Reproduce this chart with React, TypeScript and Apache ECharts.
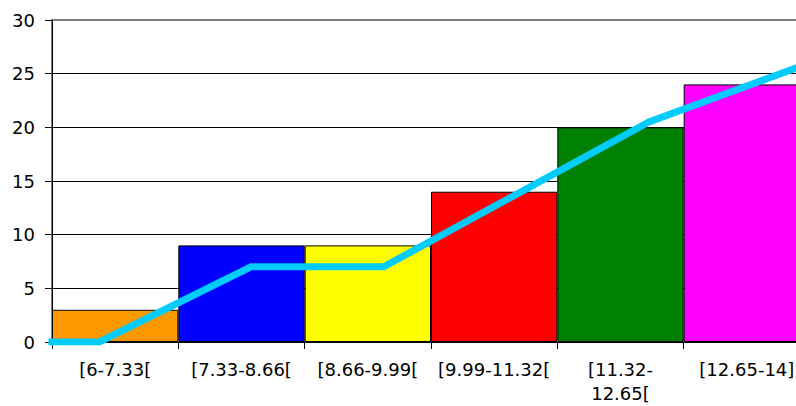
import React, { useEffect, useRef } from "react";
import * as echarts from "echarts";

// Class intervals and their frequencies
const categories = [
  "[6-7.33[",
  "[7.33-8.66[",
  "[8.66-9.99[",
  "[9.99-11.32[",
  "[11.32-12.65[",
  "[12.65-14]",
];
const counts = [3, 9, 9, 14, 20, 24];
const barColors = ["#FF9900", "#0000FF", "#FFFF00", "#FF0000", "#008000", "#FF00FF"];

// Polygon drawn over the histogram (x in class units, y in frequency)
const polygonX = [6, 6.5, 8.1, 9.5, 12.3, 14];
const polygonY = [0, 0, 7, 7, 20.5, 26];

const yMin = 0;
const yMax = 30;
const yStep = 5;

const FONT = "DejaVu Sans";

export default function App() {
  const ref = useRef<HTMLDivElement>(null);

  useEffect(() => {
    if (!ref.current) return;
    const chart = echarts.init(ref.current, undefined, { renderer: "svg" });

    const splitColors = ["#000", "#000", "#000", "#000", "#000", "#000", "#808080"];

    chart.setOption({
      animation: false,
      backgroundColor: "#fff",
      grid: {
        left: 52,
        top: 20,
        right: 20,
        bottom: 64,
        outerBoundsMode: "none",
        containLabel: false,
        show: true,
        borderColor: "#808080",
        borderWidth: 2,
        backgroundColor: "transparent",
      },
      xAxis: [
        {
          type: "category",
          data: categories,
          boundaryGap: true,
          axisLine: { lineStyle: { color: "#000", width: 1 } },
          axisTick: { show: true, length: 7, lineStyle: { color: "#000" } },
          axisLabel: {
            interval: 0,
            margin: 15,
            color: "#000",
            fontFamily: FONT,
            fontSize: 18,
            lineHeight: 24,
            verticalAlign: "top",
            formatter: (v: string) =>
              v.length > 12 ? v.replace("-", "-\n") : v,
          },
        },
        {
          type: "value",
          min: polygonX[0],
          max: polygonX[polygonX.length - 1],
          show: false,
        },
      ],
      yAxis: {
        type: "value",
        min: yMin,
        max: yMax,
        interval: yStep,
        axisLine: { show: true, lineStyle: { color: "#000", width: 1 } },
        axisTick: { show: true, length: 7, lineStyle: { color: "#000" } },
        axisLabel: {
          margin: 17,
          color: "#000",
          fontFamily: FONT,
          fontSize: 18,
        },
        splitLine: { show: true, lineStyle: { color: splitColors, width: 1 } },
      },
      series: [
        {
          type: "bar",
          xAxisIndex: 0,
          barWidth: "100%",
          barCategoryGap: 0,
          data: counts.map((v, i) => ({
            value: v,
            itemStyle: { color: barColors[i], borderColor: "#000", borderWidth: 1 },
          })),
          z: 2,
        },
        {
          type: "line",
          xAxisIndex: 1,
          symbol: "none",
          data: polygonX.map((x, i) => [x, polygonY[i]]),
          lineStyle: { color: "#00CCFF", width: 7, cap: "square", join: "miter" },
          z: 5,
        },
      ],
    });

    return () => chart.dispose();
  }, []);

  return (
    <div
      style={{
        position: "absolute",
        left: 0,
        top: 0,
        width: 796,
        height: 406,
        overflow: "hidden",
        background: "#fff",
      }}
    >
      <div ref={ref} style={{ width: 830, height: 406 }} />
    </div>
  );
}
